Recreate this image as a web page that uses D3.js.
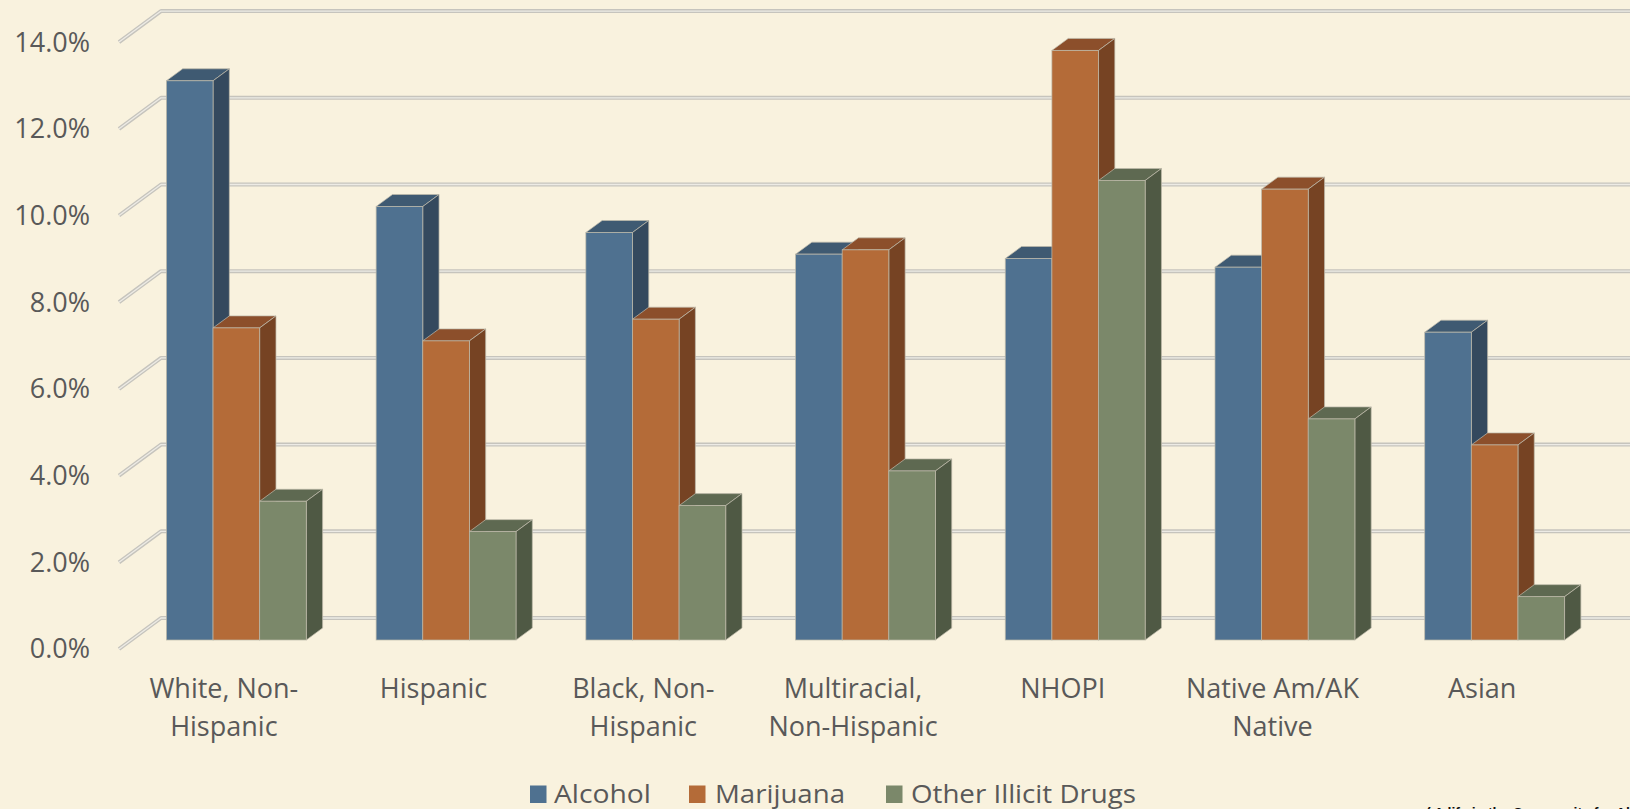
<!DOCTYPE html>
<html>
<head>
<meta charset="utf-8">
<script src="https://cdn.jsdelivr.net/npm/d3@7"></script>
<style>
  html, body { margin: 0; padding: 0; background: #F9F2DE; }
  svg { display: block; }
</style>
</head>
<body>
<svg id="chart" width="1630" height="809"></svg>
<script>
// Substance use by race/ethnicity (percent)
const categories = ["White, Non-\nHispanic", "Hispanic", "Black, Non-\nHispanic", "Multiracial,\nNon-Hispanic", "NHOPI", "Native Am/AK\nNative", "Asian"];
const seriesNames = ["Alcohol", "Marijuana", "Other Illicit Drugs"];
const alcohol   = [12.9, 10.0, 9.4, 8.9, 8.8, 8.6, 7.1];
const marijuana = [7.2, 6.9, 7.4, 9.0, 13.6, 10.4, 4.5];
const otherDrugs = [3.2, 2.5, 3.1, 3.9, 10.6, 5.1, 1.0];
const yTicks = [0, 2, 4, 6, 8, 10, 12, 14];

const seriesValues = [alcohol, marijuana, otherDrugs];
const palette = [
  { front: "#4F7190", top: "#3F5A72", side: "#34495E" },
  { front: "#B46B38", top: "#8C4F2B", side: "#764323" },
  { front: "#7B886A", top: "#5E6951", side: "#4F5944" }
];

const svg = d3.select("#chart");
const W = 1630, H = 809;

// oblique projection: floor front edge -> back wall
const wallDX = 42, wallDY = -31;
const barOffX = 12.5, barOffY = -9;      // bar front plane behind floor front
const depthDX = 16.3, depthDY = -12;     // bar depth

const x = d3.scaleBand().domain(categories).range([119, 1587]).paddingInner(0.333).paddingOuter(0.1665);
const x1 = d3.scaleBand().domain(seriesNames).range([0, x.bandwidth()]);
const y = d3.scaleLinear().domain([0, 14]).range([649, 649 - 14 * 43.35]);

// gridlines: diagonal on the side, horizontal along the back wall
const grid = svg.append("g");
yTicks.forEach(t => {
  const y0 = y(t);
  const pts = [[119, y0], [119 + wallDX, y0 + wallDY], [W, y0 + wallDY]];
  const line = d3.line();
  grid.append("path").attr("d", line(pts)).attr("fill", "none")
    .attr("stroke", "#C6C4BD").attr("stroke-width", 4).attr("stroke-linejoin", "round");
  grid.append("path").attr("d", line(pts)).attr("fill", "none")
    .attr("stroke", "#EDEBE5").attr("stroke-width", 1.3).attr("stroke-linejoin", "round");
});

// y-axis labels
svg.append("g").selectAll("text").data(yTicks).join("text")
  .attr("x", 90).attr("y", d => y(d)).attr("dy", "0.35em")
  .attr("text-anchor", "end")
  .attr("font-family", "'Open Sans', sans-serif").attr("font-size", 27)
  .attr("fill", "#595959")
  .text(d => d3.format(".1%")(d / 100));

// bars
const bars = svg.append("g");
const edge = "rgba(190,185,170,0.9)";
categories.forEach((cat, ci) => {
  seriesNames.forEach((s, si) => {
    const v = seriesValues[si][ci];
    const c = palette[si];
    const bx = x(cat) + x1(s) + barOffX;
    const w = x1.bandwidth();
    const yb = y(0) + barOffY;
    const yt = y(v) + barOffY;
    const poly = p => p.map(q => q.join(",")).join(" ");
    bars.append("polygon")
      .attr("points", poly([[bx, yt], [bx + depthDX, yt + depthDY], [bx + w + depthDX, yt + depthDY], [bx + w, yt]]))
      .attr("fill", c.top).attr("stroke", edge).attr("stroke-width", 0.8);
    bars.append("polygon")
      .attr("points", poly([[bx + w, yt], [bx + w + depthDX, yt + depthDY], [bx + w + depthDX, yb + depthDY], [bx + w, yb]]))
      .attr("fill", c.side).attr("stroke", edge).attr("stroke-width", 0.8);
    bars.append("rect")
      .attr("x", bx).attr("y", yt).attr("width", w).attr("height", yb - yt)
      .attr("fill", c.front).attr("stroke", edge).attr("stroke-width", 0.8);
  });
});

// category labels
const catG = svg.append("g");
categories.forEach(cat => {
  const cx = x(cat) + x.bandwidth() / 2;
  const t = catG.append("text")
    .attr("x", cx).attr("y", 689).attr("text-anchor", "middle")
    .attr("font-family", "'Open Sans', sans-serif").attr("font-size", 27)
    .attr("fill", "#595959");
  cat.split("\n").forEach((ln, i) => {
    t.append("tspan").attr("x", cx).attr("dy", i === 0 ? "0.35em" : 38).text(ln);
  });
});

// legend
const legendItems = [
  { sq: 530, tx: 554, len: 97 },
  { sq: 689, tx: 715, len: 130 },
  { sq: 886, tx: 911, len: 225 }
];
const lg = svg.append("g");
seriesNames.forEach((s, i) => {
  const it = legendItems[i];
  lg.append("rect").attr("x", it.sq).attr("y", 785.5).attr("width", 16.5).attr("height", 17.5)
    .attr("fill", palette[i].front);
  lg.append("text").attr("x", it.tx).attr("y", 802.5)
    .attr("font-family", "'Open Sans', sans-serif").attr("font-size", 25)
    .attr("fill", "#595959")
    .attr("textLength", it.len).attr("lengthAdjust", "spacingAndGlyphs")
    .text(s);
});

// source note (runs off the lower edge)
svg.append("text").attr("x", 1426).attr("y", 818)
  .attr("font-family", "'Liberation Sans', Arial, sans-serif").attr("font-size", 14)
  .attr("font-weight", "bold").attr("fill", "#111")
  .text("(  A life in the Community for All )");
</script>
</body>
</html>
